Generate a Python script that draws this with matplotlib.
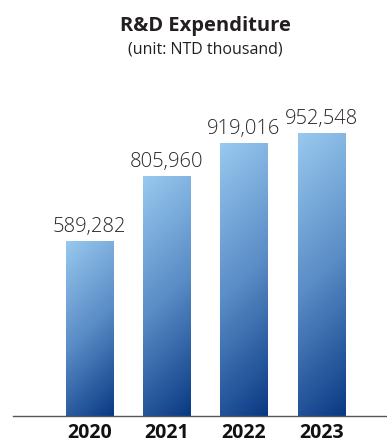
import matplotlib
matplotlib.use("Agg")
import matplotlib.pyplot as plt
import numpy as np
from matplotlib.colors import LinearSegmentedColormap

years = ["2020", "2021", "2022", "2023"]
values = [589282, 805960, 919016, 952548]
value_labels = ["589,282", "805,960", "919,016", "952,548"]

W, H, DPI = 387, 443, 100
fig = plt.figure(figsize=(W / DPI, H / DPI), dpi=DPI)

# axes placed in pixel units: left, bottom, width, height
ax_left, ax_right = 13, 387
ax_bottom_px, ax_top_px = 416, 59
ax = fig.add_axes([ax_left / W, (H - ax_bottom_px) / H,
                   (ax_right - ax_left) / W, (ax_bottom_px - ax_top_px) / H])

x = np.arange(len(years))
ax.set_xlim(-0.99, 3.85)
ax.set_ylim(0, 1.2e6)

bar_w = 0.61
bars = ax.bar(x, values, width=bar_w, color="none", edgecolor="none", zorder=2)

cmap = LinearSegmentedColormap.from_list(
    "blue_grad", ["#98c9ef", "#5a8cc6", "#0a3984"])

fig.canvas.draw()
for rect in bars:
    x0, y0 = rect.get_x(), rect.get_y()
    w, h = rect.get_width(), rect.get_height()
    # bar size in pixels for a 45-degree diagonal gradient
    p0 = ax.transData.transform((x0, y0))
    p1 = ax.transData.transform((x0 + w, y0 + h))
    wpx, hpx = abs(p1[0] - p0[0]), abs(p1[1] - p0[1])
    nu, nv = 60, 200
    u = np.linspace(0, 1, nu)[None, :]
    v = np.linspace(0, 1, nv)[:, None]  # 0 at top
    t = (u * wpx + v * hpx) / (wpx + hpx)
    im = ax.imshow(t, cmap=cmap, vmin=0, vmax=1, aspect="auto",
                   extent=(x0, x0 + w, y0, y0 + h), origin="upper",
                   interpolation="bilinear", zorder=2)
    im.set_clip_path(rect)

ax.set_xlim(-0.99, 3.85)
ax.set_ylim(0, 1.2e6)

for xi, val, lab in zip(x, values, value_labels):
    ax.annotate(lab, xy=(xi, val), xytext=(0, 6.5), textcoords="offset points",
                ha="center", va="baseline", fontsize=14.5, color="#2b2523",
                family="Open Sans", fontweight="light")

for s in ["top", "right", "left"]:
    ax.spines[s].set_visible(False)
ax.spines["bottom"].set_color("#555555")
ax.spines["bottom"].set_linewidth(1.0)
ax.set_yticks([])
ax.set_xticks(x, years)
ax.tick_params(axis="x", length=0, pad=15.5)
for lbl in ax.get_xticklabels():
    lbl.set_va("baseline")
    lbl.set_fontsize(14)
    lbl.set_fontweight("bold")
    lbl.set_family("Open Sans")
    lbl.set_color("#111111")

fig.text(205 / W, 1 - 31 / H, "R&D Expenditure", ha="center", va="baseline",
         fontsize=14.5, fontweight="bold", family="Open Sans", color="#231f20")
fig.text(205 / W, 1 - 53 / H, "(unit: NTD thousand)", ha="center", va="baseline",
         fontsize=11.5, family="Open Sans", color="#231f20")

fig.savefig("out.png", dpi=DPI)
